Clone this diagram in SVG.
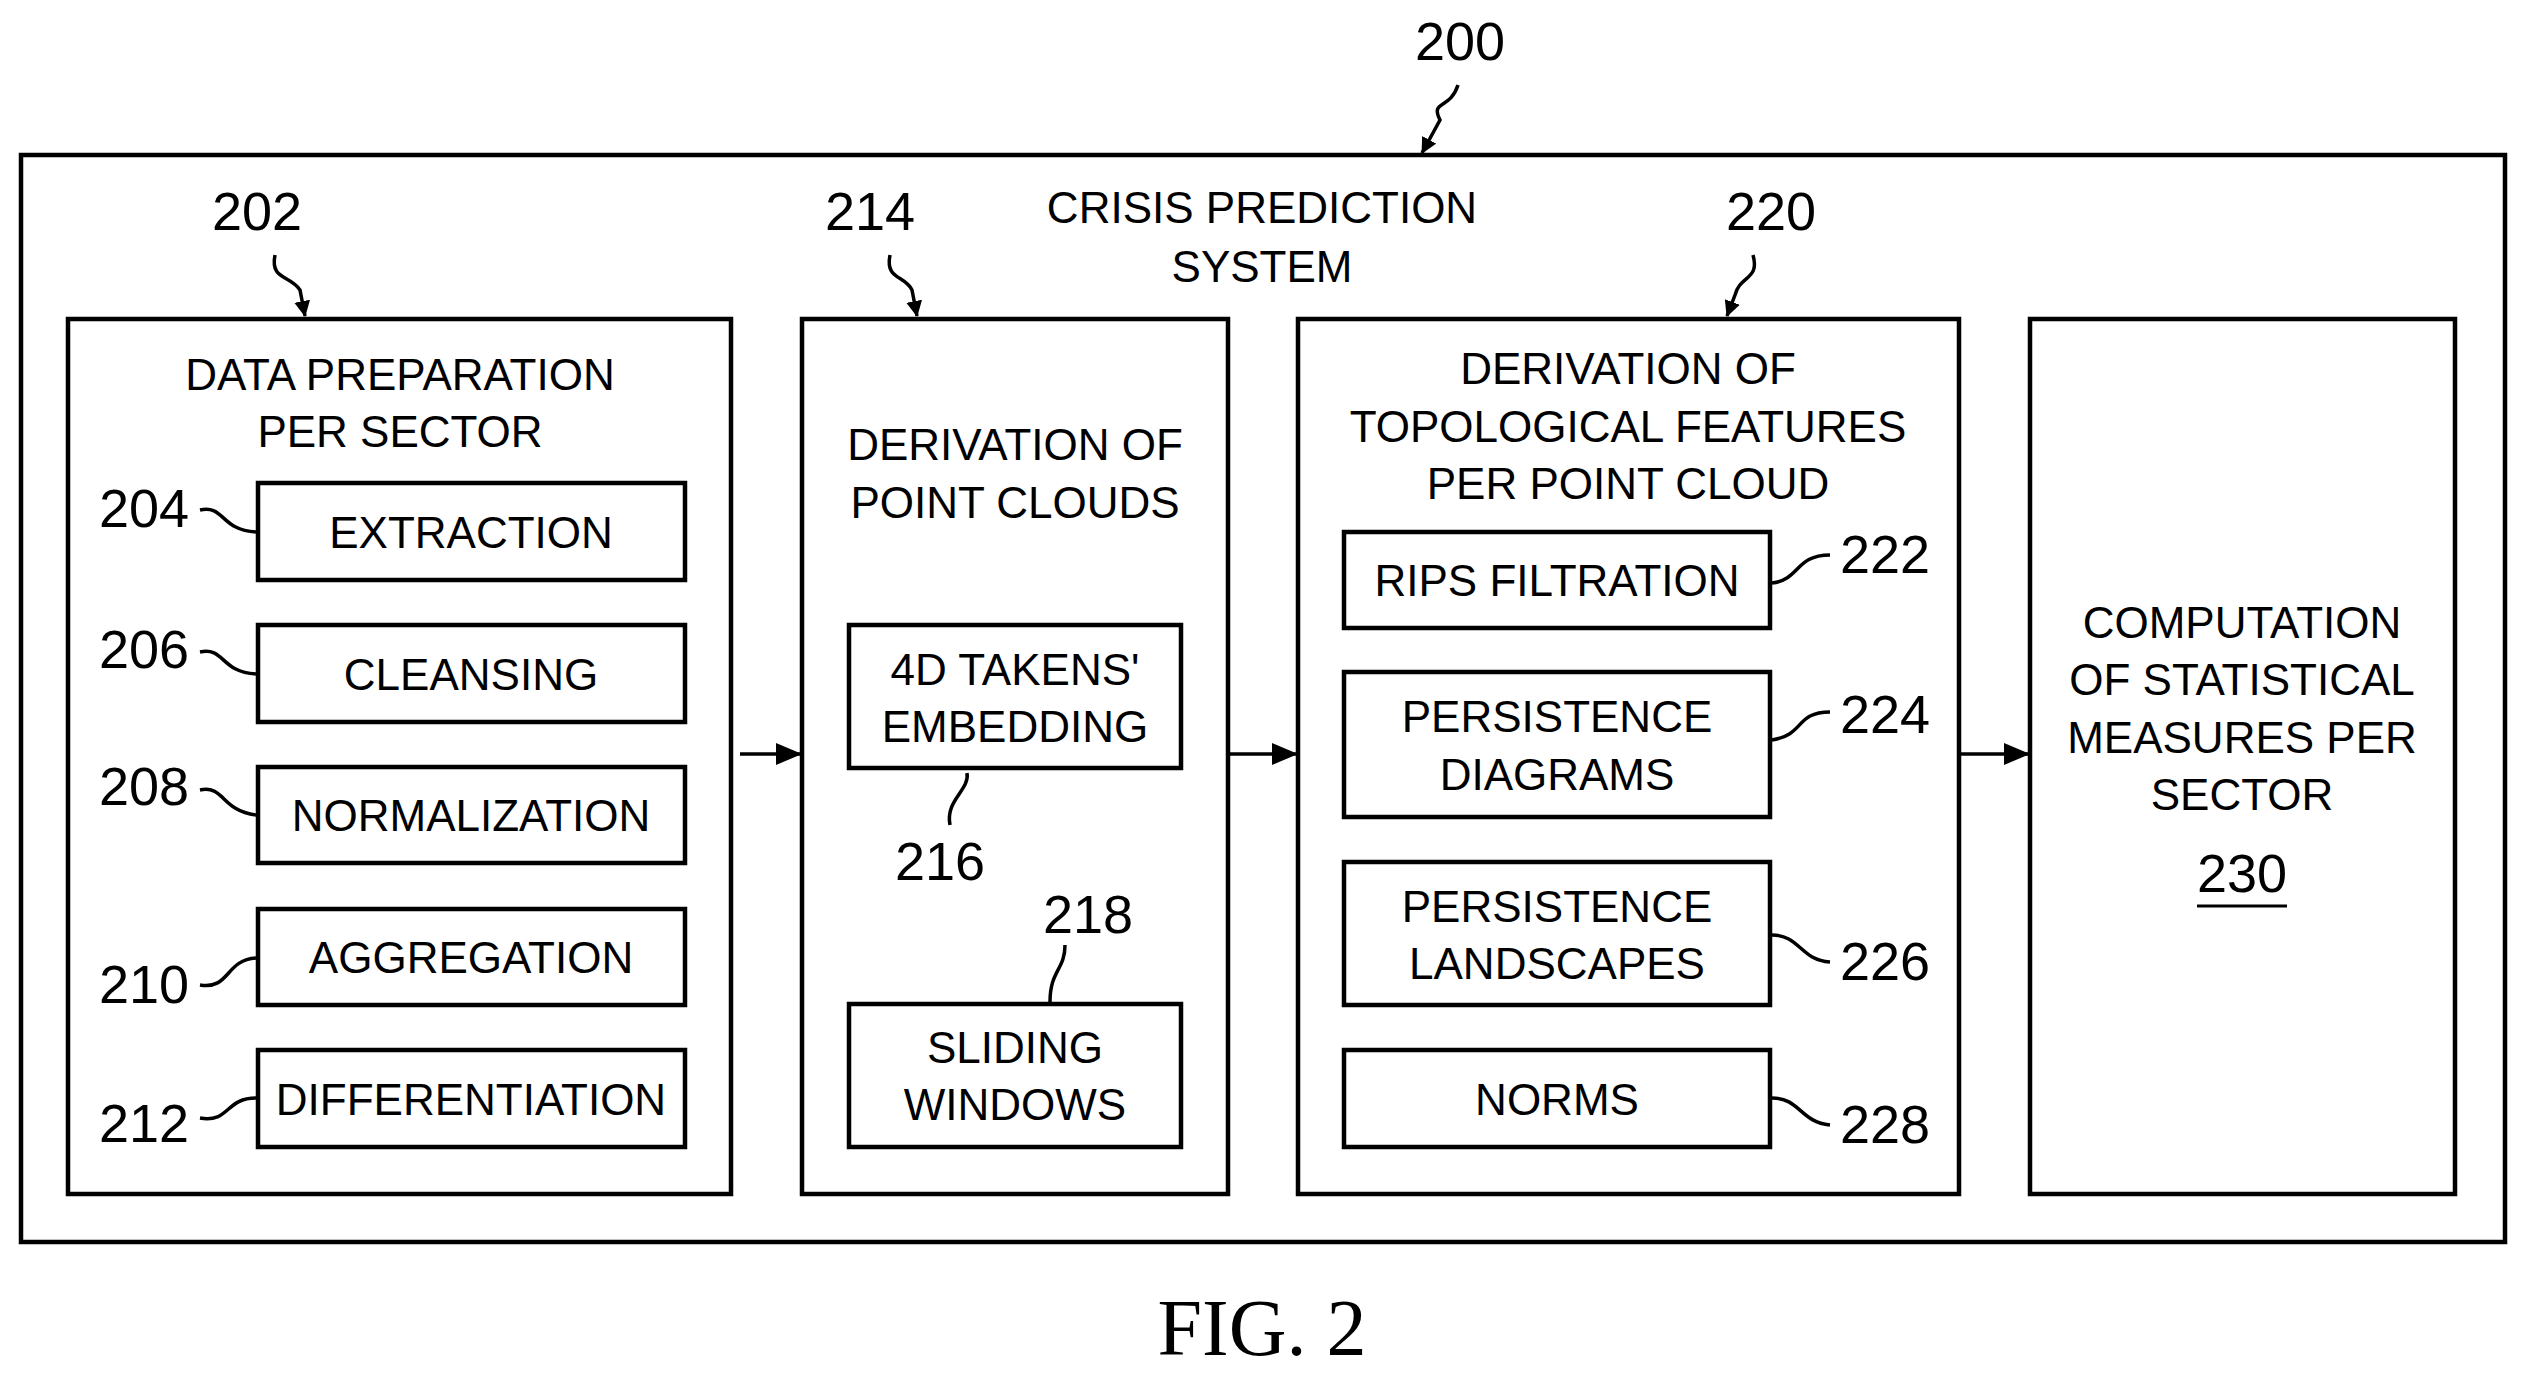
<svg xmlns="http://www.w3.org/2000/svg" width="2526" height="1380" viewBox="0 0 2526 1380">
<defs>
<marker id="ah" markerWidth="16" markerHeight="16" refX="15" refY="8" orient="auto" markerUnits="userSpaceOnUse" viewBox="0 0 16 16"><path d="M0,0 L16,8 L0,16 z" fill="#000"/></marker>
<marker id="ah2" markerWidth="26" markerHeight="22" refX="24" refY="11" orient="auto" markerUnits="userSpaceOnUse" viewBox="0 0 26 22"><path d="M0,0 L26,11 L0,22 z" fill="#000"/></marker>
<style>
rect{fill:#fff;stroke:#000;stroke-width:4.5}
text{font-family:"Liberation Sans",Arial,sans-serif;font-size:44px;text-anchor:middle;fill:#000}
.n{font-size:54px}
.l{fill:none;stroke:#000;stroke-width:3.5}
</style>
</defs>
<rect width="2526" height="1380" style="fill:#fff;stroke:none"/>
<g id="outer"><rect x="21" y="155" width="2484" height="1087"/>
<text x="1262" y="223">CRISIS PREDICTION</text><text x="1262" y="282">SYSTEM</text></g>
<g id="n202"><rect x="68" y="319" width="663" height="875"/>
<text x="400" y="390">DATA PREPARATION</text><text x="400" y="447">PER SECTOR</text></g>
<g id="n204"><rect x="258" y="483" width="427" height="97"/><text x="471" y="548">EXTRACTION</text></g>
<g id="n206"><rect x="258" y="625" width="427" height="97"/><text x="471" y="690">CLEANSING</text></g>
<g id="n208"><rect x="258" y="767" width="427" height="96"/><text x="471" y="831">NORMALIZATION</text></g>
<g id="n210"><rect x="258" y="909" width="427" height="96"/><text x="471" y="973">AGGREGATION</text></g>
<g id="n212"><rect x="258" y="1050" width="427" height="97"/><text x="471" y="1115">DIFFERENTIATION</text></g>
<g id="n214"><rect x="802" y="319" width="426" height="875"/>
<text x="1015" y="460">DERIVATION OF</text><text x="1015" y="518">POINT CLOUDS</text></g>
<g id="n216"><rect x="849" y="625" width="332" height="143"/><text x="1015" y="685">4D TAKENS'</text><text x="1015" y="742">EMBEDDING</text></g>
<g id="n218"><rect x="849" y="1004" width="332" height="143"/><text x="1015" y="1063">SLIDING</text><text x="1015" y="1120">WINDOWS</text></g>
<g id="n220"><rect x="1298" y="319" width="661" height="875"/>
<text x="1628" y="384">DERIVATION OF</text><text x="1628" y="442">TOPOLOGICAL FEATURES</text><text x="1628" y="499">PER POINT CLOUD</text></g>
<g id="n222"><rect x="1344" y="532" width="426" height="96"/><text x="1557" y="596">RIPS FILTRATION</text></g>
<g id="n224"><rect x="1344" y="672" width="426" height="145"/><text x="1557" y="732">PERSISTENCE</text><text x="1557" y="790">DIAGRAMS</text></g>
<g id="n226"><rect x="1344" y="862" width="426" height="143"/><text x="1557" y="922">PERSISTENCE</text><text x="1557" y="979">LANDSCAPES</text></g>
<g id="n228"><rect x="1344" y="1050" width="426" height="97"/><text x="1557" y="1115">NORMS</text></g>
<g id="n230"><rect x="2030" y="319" width="425" height="875"/>
<text x="2242" y="638">COMPUTATION</text><text x="2242" y="695">OF STATISTICAL</text><text x="2242" y="753">MEASURES PER</text><text x="2242" y="810">SECTOR</text>
<text x="2242" y="892" class="n">230</text><line x1="2197" y1="906" x2="2287" y2="906" stroke="#000" stroke-width="3"/></g>
<g id="labels">
<text x="1460" y="60" class="n">200</text>
<text x="257" y="230" class="n">202</text>
<text x="870" y="230" class="n">214</text>
<text x="1771" y="230" class="n">220</text>
<text x="144" y="527" class="n">204</text>
<text x="144" y="668" class="n">206</text>
<text x="144" y="805" class="n">208</text>
<text x="144" y="1003" class="n">210</text>
<text x="144" y="1142" class="n">212</text>
<text x="940" y="880" class="n">216</text>
<text x="1088" y="933" class="n">218</text>
<text x="1885" y="573" class="n">222</text>
<text x="1885" y="733" class="n">224</text>
<text x="1885" y="980" class="n">226</text>
<text x="1885" y="1143" class="n">228</text>
<text x="1262" y="1355" style="font-family:'Liberation Serif',serif;font-size:80px">FIG. 2</text>
</g>
<g id="connectors">
<path class="l" d="M740,754 H800" marker-end="url(#ah2)"/>
<path class="l" d="M1230,754 H1296" marker-end="url(#ah2)"/>
<path class="l" d="M1961,754 H2028" marker-end="url(#ah2)"/>
<path class="l" d="M1458,85 C1450,110 1430,100 1440,120 L1422,153" marker-end="url(#ah)"/>
<path class="l" d="M275,255 C270,280 290,275 300,290 L305,316" marker-end="url(#ah)"/>
<path class="l" d="M890,255 C885,280 905,275 912,290 L917,316" marker-end="url(#ah)"/>
<path class="l" d="M1753,255 C1760,280 1740,275 1735,295 L1727,316" marker-end="url(#ah)"/>
<path class="l" d="M200,510 C225,505 220,530 256,532"/>
<path class="l" d="M200,652 C225,647 220,672 256,674"/>
<path class="l" d="M200,790 C225,785 220,810 256,815"/>
<path class="l" d="M200,985 C230,990 225,960 256,958"/>
<path class="l" d="M200,1118 C230,1123 225,1098 256,1098"/>
<path class="l" d="M967,773 C970,790 945,800 950,825"/>
<path class="l" d="M1065,945 C1065,970 1050,970 1050,1002"/>
<path class="l" d="M1772,583 C1800,580 1795,555 1830,555"/>
<path class="l" d="M1772,740 C1805,735 1795,712 1830,712"/>
<path class="l" d="M1772,935 C1800,935 1800,960 1830,962"/>
<path class="l" d="M1772,1098 C1800,1098 1800,1122 1830,1125"/>
</g>
</svg>
